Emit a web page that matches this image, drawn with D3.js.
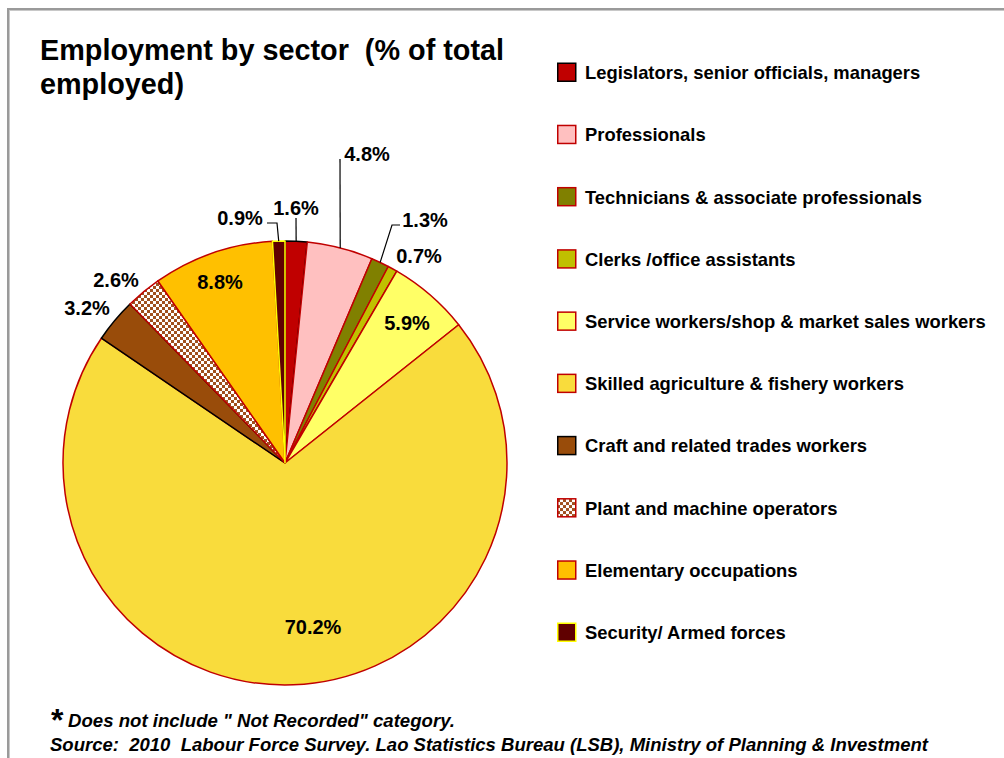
<!DOCTYPE html>
<html><head><meta charset="utf-8">
<script src="https://cdn.jsdelivr.net/npm/d3@7"></script>
<style>html,body{margin:0;padding:0;background:#fff;}svg{display:block;}</style>
</head><body>
<svg id="chart" width="1004" height="758"></svg>
<script>
// ---- data ----
const categories = [
  "Legislators, senior officials, managers",
  "Professionals",
  "Technicians & associate professionals",
  "Clerks /office assistants",
  "Service workers/shop & market sales workers",
  "Skilled agriculture & fishery workers",
  "Craft and related trades workers",
  "Plant and machine operators",
  "Elementary occupations",
  "Security/ Armed forces"
];
const values = [1.6, 4.8, 1.3, 0.7, 5.9, 70.2, 3.2, 2.6, 8.8, 0.9];
const valueLabels = ["1.6%", "4.8%", "1.3%", "0.7%", "5.9%", "70.2%", "3.2%", "2.6%", "8.8%", "0.9%"];
const titleLines = ["Employment by sector  (% of total", "employed)"];
const noteLine = "Does not include \" Not Recorded\" category.";
const sourceLine = "Source:  2010  Labour Force Survey. Lao Statistics Bureau (LSB), Ministry of Planning & Investment";

// ---- styles ----
const fills = ["#c00000", "#ffc0c0", "#808000", "#c0c000", "#ffff66", "#f9dc3c", "#994c0a", "url(#checker)", "#ffc000", "#600000"];
const strokes = ["#000000", "#c00000", "#c00000", "#c00000", "#c00000", "#c00000", "#000000", "#c00000", "#c00000", "#ffff00"];
// label placement relative to pie centre (layout only)
const labelOffsets = [[11,-255],[82,-309],[140,-243],[134,-207],[122,-140],[28,164],[-198,-155],[-169,-183],[-65,-181],[-45,-245]];
// leader line elbows (relative to centre); null = no leader
const leaders = [[[11,-245]], [[55,-304]], [[107,-238],[115,-238]], null, null, null, null, null, null, [[-8,-240],[-18,-240]]];

const svg = d3.select("#chart");
const font = "'Liberation Sans', Arial, Helvetica, sans-serif";

// pattern
const defs = svg.append("defs");
const pat = defs.append("pattern").attr("id","checker").attr("patternUnits","userSpaceOnUse")
  .attr("width",6).attr("height",6);
pat.append("rect").attr("width",6).attr("height",6).attr("fill","#a0501e");
pat.append("rect").attr("x",0).attr("y",0).attr("width",3).attr("height",3).attr("fill","#ffffff");
pat.append("rect").attr("x",3).attr("y",3).attr("width",3).attr("height",3).attr("fill","#ffffff");

// frame
svg.append("rect").attr("x",8.5).attr("y",9.5).attr("width",1200).attr("height",1200)
  .attr("fill","none").attr("stroke","#9a9a9a").attr("stroke-width",3);
svg.append("rect").attr("x",9.5).attr("y",10.5).attr("width",1200).attr("height",1200)
  .attr("fill","none").attr("stroke","#c8c8c8").attr("stroke-width",1);

// title
svg.append("text").attr("font-family",font).attr("font-weight","bold").attr("font-size",28.8)
  .attr("fill","#000")
  .selectAll("tspan").data(titleLines).join("tspan")
  .attr("x",40).attr("y",(d,i)=>60+i*33.5).attr("xml:space","preserve")
  .style("white-space","pre").text(d=>d);

// pie
const cx = 285, cy = 463, R = 222;
const g = svg.append("g").attr("transform",`translate(${cx},${cy})`);
const pie = d3.pie().sort(null).value(d=>d);
const arcs = pie(values);
const arc = d3.arc().innerRadius(0).outerRadius(R);
g.selectAll("path.slice").data(arcs).join("path").attr("class","slice")
  .attr("d",arc)
  .attr("fill",(d,i)=>fills[i])
  .attr("stroke",(d,i)=>strokes[i])
  .attr("stroke-width",1.5)
  .attr("stroke-linejoin","round");

// leader lines
arcs.forEach((a,i)=>{
  if(!leaders[i]) return;
  const m = (a.startAngle+a.endAngle)/2;
  const p0 = [R*Math.sin(m), -R*Math.cos(m)];
  const pts = [p0].concat(leaders[i]);
  g.append("path").attr("d", d3.line()(pts)).attr("fill","none")
    .attr("stroke","#000").attr("stroke-width",1.2);
});

// labels
g.selectAll("text.lbl").data(arcs).join("text").attr("class","lbl")
  .attr("x",(d,i)=>labelOffsets[i][0]).attr("y",(d,i)=>labelOffsets[i][1])
  .attr("dy","0.36em").attr("text-anchor","middle")
  .attr("font-family",font).attr("font-weight","bold").attr("font-size",20)
  .attr("fill","#000").text((d,i)=>valueLabels[i]);

// legend
const lg = svg.append("g");
const rowY = d3.scalePoint().domain(d3.range(categories.length)).range([72.5, 632.5]);
const rows = lg.selectAll("g").data(categories).join("g")
  .attr("transform",(d,i)=>`translate(557,${rowY(i)})`);
rows.append("rect").attr("x",0.75).attr("y",-9.25).attr("width",18).attr("height",18)
  .attr("fill",(d,i)=>fills[i]).attr("stroke",(d,i)=>strokes[i]).attr("stroke-width",1.5);
rows.append("text").attr("x",28).attr("y",0).attr("dy","0.36em")
  .attr("font-family",font).attr("font-weight","bold").attr("font-size",18.4)
  .attr("fill","#000").text(d=>d);

// footnotes
const narrow = "'Liberation Sans Narrow', 'Arial Narrow', 'Liberation Sans', Arial, sans-serif";
svg.append("text").attr("x",51).attr("y",731).attr("font-family",font).attr("font-weight","bold")
  .attr("font-size",32).attr("fill","#000").text("*");
svg.append("text").attr("x",68).attr("y",727).attr("font-family",narrow).attr("font-weight","bold")
  .attr("font-style","italic").attr("font-size",18).attr("fill","#000")
  .attr("textLength",387).attr("lengthAdjust","spacingAndGlyphs").text(noteLine);
svg.append("text").attr("x",50).attr("y",751).attr("font-family",narrow).attr("font-weight","bold")
  .attr("font-style","italic").attr("font-size",18).attr("fill","#000")
  .attr("textLength",878).attr("lengthAdjust","spacingAndGlyphs")
  .attr("xml:space","preserve").style("white-space","pre").text(sourceLine);
</script>
</body></html>
